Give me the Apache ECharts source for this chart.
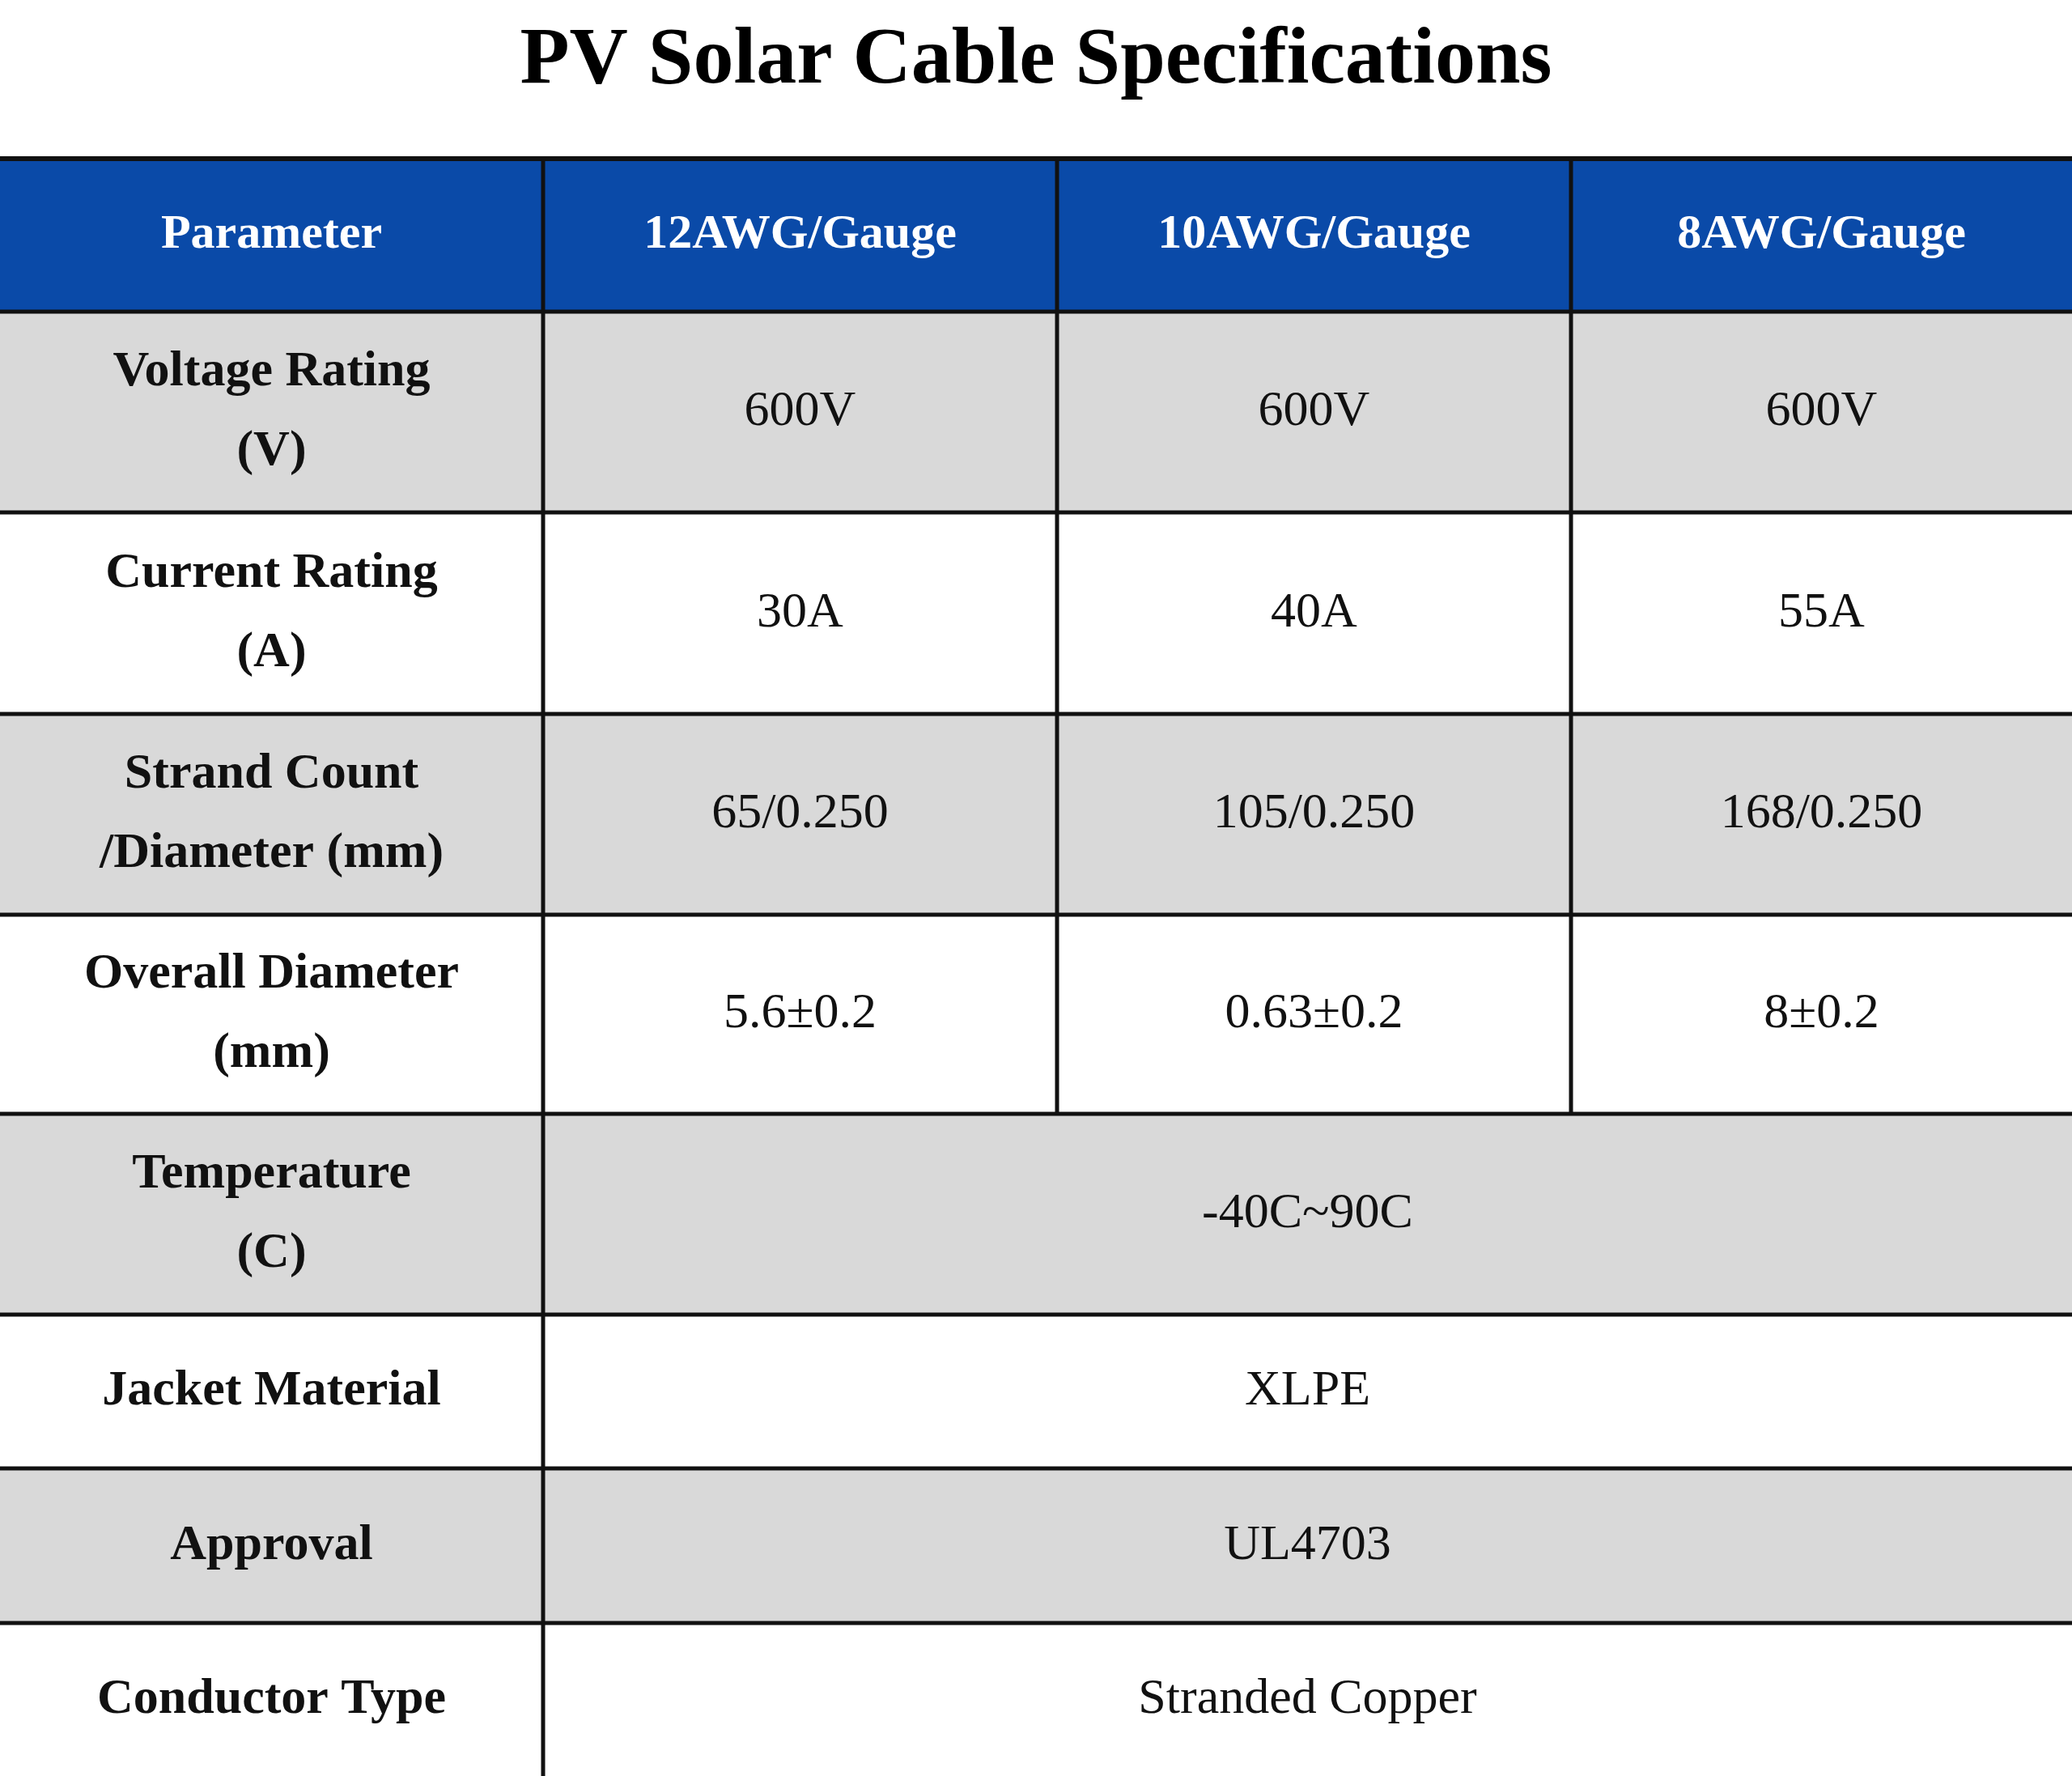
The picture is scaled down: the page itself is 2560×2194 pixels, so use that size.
<!DOCTYPE html>
<html>
<head>
<meta charset="UTF-8">
<script src="https://cdn.jsdelivr.net/npm/echarts@6/dist/echarts.min.js"></script>
<style>
  html, body { margin: 0; padding: 0; background: #fff; }
  #chart { width: 2560px; height: 2194px; }
</style>
</head>
<body>
<div id="chart"></div>
<script>
// table content
var title = 'PV Solar Cable Specifications';
var headers = ['Parameter', '12AWG/Gauge', '10AWG/Gauge', '8AWG/Gauge'];
var params = ['Voltage Rating\n(V)', 'Current Rating\n(A)', 'Strand Count\n/Diameter (mm)',
              'Overall Diameter\n(mm)', 'Temperature\n(C)', 'Jacket Material', 'Approval', 'Conductor Type'];
var gauge12 = ['600V', '30A', '65/0.250', '5.6±0.2'];
var gauge10 = ['600V', '40A', '105/0.250', '0.63±0.2'];
var gauge8 = ['600V', '55A', '168/0.250', '8±0.2'];
var shared = ['-40C~90C', 'XLPE', 'UL4703', 'Stranded Copper'];

// layout
var colX = [0, 671, 1306, 1941, 2560];
var rowY = [196, 385, 633, 882, 1130, 1376, 1624, 1814, 2005, 2194];
var blue = '#0a4aa8', grey = '#d9d9d9';
var font = '"Liberation Serif", "Times New Roman", serif';

var g = [];
function cell(x0, x1, y0, y1, fill, txt, bold, color, size) {
  g.push({ type: 'rect', shape: { x: x0, y: y0, width: x1 - x0, height: y1 - y0 }, style: { fill: fill }, z: 1 });
  g.push({ type: 'text', x: (x0 + x1) / 2, y: (y0 + y1) / 2, z: 3,
    style: { text: txt, fill: color, font: (bold ? 'bold ' : '') + size + 'px ' + font,
             align: 'center', verticalAlign: 'middle', lineHeight: 98 } });
}
g.push({ type: 'text', x: 1280, y: 76, z: 3, style: { text: title, fill: '#000',
  font: 'bold 100px ' + font, align: 'center', verticalAlign: 'middle' } });

for (var c = 0; c < 4; c++) cell(colX[c], colX[c + 1], rowY[0], rowY[1], blue, headers[c], true, '#fff', 60);
var cols = [gauge12, gauge10, gauge8];
for (var r = 0; r < params.length; r++) {
  var fill = r % 2 === 0 ? grey : '#fff';
  var y0 = rowY[r + 1], y1 = rowY[r + 2];
  cell(colX[0], colX[1], y0, y1, fill, params[r], true, '#111', 62);
  if (r < 4) {
    for (var k = 0; k < 3; k++) cell(colX[k + 1], colX[k + 2], y0, y1, fill, cols[k][r], false, '#111', 62);
  } else {
    cell(colX[1], colX[4], y0, y1, fill, shared[r - 4], false, '#111', 62);
  }
}
// grid lines
var lw = 5;
rowY.forEach(function (y, i) {
  if (i === rowY.length - 1) return;
  g.push({ type: 'line', z: 2, shape: { x1: 0, y1: y, x2: 2560, y2: y }, style: { stroke: '#111', lineWidth: i === 0 ? 6 : lw } });
});
g.push({ type: 'line', z: 2, shape: { x1: colX[1], y1: rowY[0], x2: colX[1], y2: 2194 }, style: { stroke: '#111', lineWidth: lw } });
for (var c2 = 2; c2 < 4; c2++)
  g.push({ type: 'line', z: 2, shape: { x1: colX[c2], y1: rowY[0], x2: colX[c2], y2: rowY[5] }, style: { stroke: '#111', lineWidth: lw } });

var chart = echarts.init(document.getElementById('chart'));
chart.setOption({ backgroundColor: '#fff', animation: false, graphic: g });
</script>
</body>
</html>
